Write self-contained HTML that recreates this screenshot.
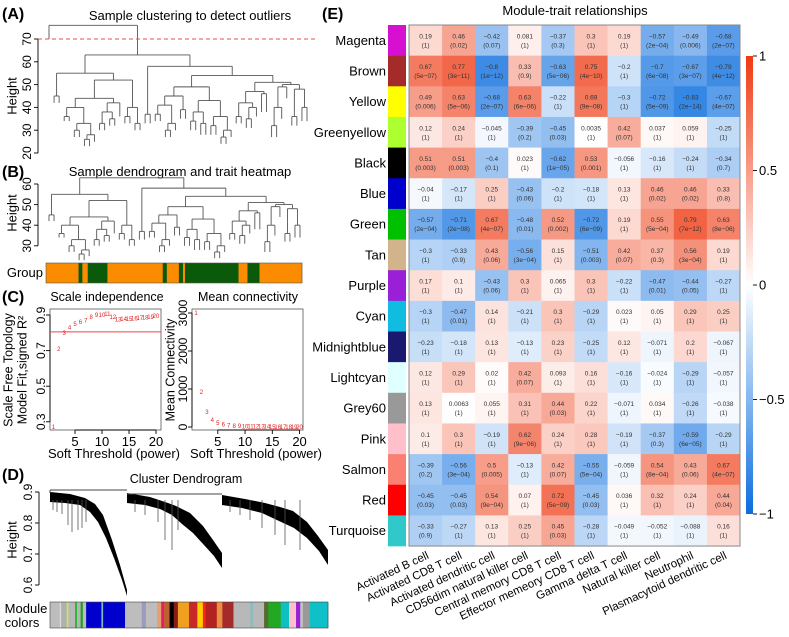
<!DOCTYPE html>
<html><head><meta charset="utf-8"><style>
body{margin:0;background:#fff;}
svg{display:block;font-family:"Liberation Sans",sans-serif;}
</style></head><body>
<svg id="fig" width="789" height="637" viewBox="0 0 789 637" xmlns="http://www.w3.org/2000/svg">
<g id="gA"></g>
<g id="gB"></g>
<g id="gC"></g>
<g id="gD"></g>
<g id="gE"></g>
</svg>
<script>
const NS='http://www.w3.org/2000/svg';
function el(p,tag,at,txt){const e=document.createElementNS(NS,tag);for(const k in at)e.setAttribute(k,at[k]);if(txt!==undefined)e.textContent=txt;p.appendChild(e);return e;}
function T(p,x,y,s,size,opt){opt=opt||{};const e=el(p,'text',{x:x,y:y,'font-size':size,'text-anchor':opt.anchor||'middle',fill:opt.fill||'#000'},s);if(opt.rot!==undefined)e.setAttribute('transform','rotate('+opt.rot+' '+x+' '+y+')');if(opt.bold)e.setAttribute('font-weight','bold');return e;}
function L(p,x1,y1,x2,y2,st,w){const e=el(p,'line',{x1:x1,y1:y1,x2:x2,y2:y2,stroke:st||'#000','stroke-width':w||1});return e;}

// ---------- data ----------
const sampleTree=[76,70,[63,[55,[45,42,42],[52,[44,[40,[36,34,34],[33,[30,27,27],[28,[26,23,23],25]]],[42,[38,[33,30,30],[35,32,32]],36]],[40,[36,33,33],[33,30,30]]]],[58,[37,33,33],[54,[49,[45,[41,[37,34,34],[33,[30,27,27],30]],[39,35,35]],[43,[38,[34,30,30],[33,28,28]],[36,[32,28,28],[30,[27,24,24],27]]]],[51,[47,[42,[36,33,33],[40,[35,31,31],36]],[46,38,38]],[50,[49,[40,[32,27,27],35],44],[48,[36,32,32],[40,34,34]]]]]]]];
const groupSegments=[[0,0.127,'o'],[0.127,0.142,'g'],[0.142,0.163,'o'],[0.163,0.24,'g'],[0.24,0.456,'o'],[0.456,0.472,'g'],[0.472,0.519,'o'],[0.519,0.535,'g'],[0.535,0.543,'o'],[0.543,0.752,'g'],[0.752,0.787,'o'],[0.787,0.834,'g'],[0.834,1,'o']];
const powers=[1,2,3,4,5,6,7,8,9,10,11,12,13,14,15,16,17,18,19,20];
const sftFit=[0.27,0.71,0.8,0.83,0.85,0.86,0.87,0.89,0.9,0.9,0.905,0.89,0.875,0.878,0.878,0.88,0.882,0.885,0.888,0.893];
const meanConn=[3000,920,400,180,100,60,40,28,20,16,12,10,8,7,6,5,4,3,3,2];
const rsqCut=0.805;
const modules=['Magenta','Brown','Yellow','Greenyellow','Black','Blue','Green','Tan','Purple','Cyan','Midnightblue','Lightcyan','Grey60','Pink','Salmon','Red','Turquoise'];
const moduleColors=['#d60fd0','#a52a2a','#ffff00','#adff2f','#000000','#0000cd','#00c000','#d2b48c','#9a20d8','#10bde0','#191970','#e0ffff','#999999','#ffc0cb','#fa8072','#ff0000','#30c8c8'];
const traits=['Activated B cell','Activated CD8 T cell','Activated dendritic cell','CD56dim natural killer cell','Central memory CD8 T cell','Effector memeory CD8 T cell','Gamma delta T cell','Natural killer cell','Neutrophil','Plasmacytoid dendritic cell'];
const cor=[
[0.19,0.46,-0.42,0.081,-0.37,0.3,0.19,-0.57,-0.49,-0.68],
[0.67,0.77,-0.8,0.33,-0.63,0.75,-0.2,-0.7,-0.67,-0.79],
[0.49,0.63,-0.68,0.63,-0.22,0.69,-0.3,-0.72,-0.83,-0.67],
[0.12,0.24,-0.045,-0.39,-0.45,0.0035,0.42,0.037,0.059,-0.25],
[0.51,0.51,-0.4,0.023,-0.62,0.53,-0.056,-0.16,-0.24,-0.34],
[-0.04,-0.17,0.25,-0.43,-0.2,-0.18,0.13,0.46,0.46,0.33],
[-0.57,-0.71,0.67,-0.48,0.52,-0.72,0.19,0.55,0.79,0.63],
[-0.3,-0.33,0.43,-0.56,0.15,-0.51,0.42,0.37,0.56,0.19],
[0.17,0.1,-0.43,0.3,0.065,0.3,-0.22,-0.47,-0.44,-0.27],
[-0.3,-0.47,0.14,-0.21,0.3,-0.29,0.023,0.05,0.29,0.25],
[-0.23,-0.18,0.13,-0.13,0.23,-0.25,0.12,-0.071,0.2,-0.067],
[0.12,0.29,0.02,0.42,0.093,0.16,-0.16,-0.024,-0.29,-0.057],
[0.13,0.0063,0.055,0.31,0.44,0.22,-0.071,0.034,-0.26,-0.038],
[0.1,0.3,-0.19,0.62,0.24,0.28,-0.19,-0.37,-0.59,-0.29],
[-0.39,-0.56,0.5,-0.13,0.42,-0.55,-0.059,0.54,0.43,0.67],
[-0.45,-0.45,0.54,0.07,0.72,-0.45,0.036,0.32,0.24,0.44],
[-0.33,-0.27,0.13,0.25,0.45,-0.28,-0.049,-0.052,-0.088,0.16]];
const pval=[
['1','0.02','0.07','1','0.3','1','1','2e-04','0.006','2e-07'],
['5e-07','3e-11','1e-12','0.9','5e-06','4e-10','1','6e-08','3e-07','4e-12'],
['0.006','5e-06','2e-07','6e-06','1','9e-08','1','5e-09','2e-14','4e-07'],
['1','1','1','0.2','0.03','1','0.07','1','1','1'],
['0.003','0.003','0.1','1','1e-05','0.001','1','1','1','0.7'],
['1','1','1','0.06','1','1','1','0.02','0.02','0.8'],
['2e-04','2e-08','4e-07','0.01','0.002','6e-09','1','5e-04','7e-12','8e-06'],
['1','0.9','0.06','3e-04','1','0.003','0.07','0.3','3e-04','1'],
['1','1','0.06','1','1','1','1','0.01','0.05','1'],
['1','0.01','1','1','1','1','1','1','1','1'],
['1','1','1','1','1','1','1','1','1','1'],
['1','1','1','0.07','1','1','1','1','1','1'],
['1','1','1','1','0.03','1','1','1','1','1'],
['1','1','1','9e-06','1','1','1','0.3','6e-05','1'],
['0.2','3e-04','0.005','1','0.07','5e-04','1','8e-04','0.06','4e-07'],
['0.03','0.03','9e-04','1','5e-09','0.03','1','1','1','0.04'],
['0.9','1','1','1','0.03','1','1','1','1','1']];
const cbTicks=[1,0.5,0,-0.5,-1];
const stripSegs=[[0,0.035,'#bdbdbd'],[0.035,0.04,'#d9d9d9'],[0.04,0.06,'#b0b0b0'],[0.06,0.066,'#c5e85c'],[0.066,0.09,'#b8b8b8'],[0.09,0.097,'#2db82d'],[0.097,0.11,'#b5b5b5'],[0.11,0.118,'#20a020'],[0.118,0.13,'#bbb'],[0.13,0.27,'#0000cd'],[0.185,0.19,'#7fbfbf'],[0.27,0.33,'#bdbdbd'],[0.33,0.345,'#9b9bbf'],[0.345,0.385,'#bdbdbd'],[0.385,0.40,'#e8a070'],[0.40,0.41,'#e0206a'],[0.41,0.43,'#c06030'],[0.43,0.445,'#000'],[0.445,0.46,'#8b1a1a'],[0.46,0.5,'#f0a020'],[0.5,0.53,'#c82828'],[0.53,0.55,'#ffcc00'],[0.55,0.56,'#ff2020'],[0.56,0.6,'#b22222'],[0.6,0.62,'#e89040'],[0.62,0.66,'#a52a2a'],[0.66,0.77,'#b8b8b8'],[0.72,0.73,'#8fbcbc'],[0.77,0.785,'#556b2f'],[0.785,0.83,'#22a822'],[0.83,0.86,'#10c0c0'],[0.86,0.885,'#ffc0cb'],[0.885,0.9,'#9a20d8'],[0.9,0.91,'#c0c0c0'],[0.91,0.935,'#999'],[0.935,1,'#10c0c8']];

// ---------- helpers ----------
function countLeaves(t){return Array.isArray(t)?countLeaves(t[1])+countLeaves(t[2]):1;}
function drawTree(g,tree,x0,x1,ys,col){
  const n=countLeaves(tree);const step=(x1-x0)/(n-1);let idx=0;
  function rec(t){
    if(!Array.isArray(t)){const x=x0+step*(idx++);return {x:x,h:t,leaf:true};}
    const a=rec(t[1]),b=rec(t[2]);
    [a,b].forEach(c=>{const ln=L(g,c.x,ys(t[0]),c.x,ys(c.h),col,0.9);});
    const hl=L(g,a.x,ys(t[0]),b.x,ys(t[0]),col,0.9);
    return {x:(a.x+b.x)/2,h:t[0]};
  }
  rec(tree);
}
function yAxis(g,x,ticks,ys,lblX,size){
  L(g,x,ys(ticks[0]),x,ys(ticks[ticks.length-1]),'#000',0.9);
  ticks.forEach(v=>{L(g,x-4,ys(v),x,ys(v),'#000',0.9);T(g,lblX,ys(v),String(v),size,{rot:-90,name:'y-tick-label'}).setAttribute('dominant-baseline','middle');});
}

// ---------- Panel A ----------
const gA=document.getElementById('gA');
T(gA,2,19,'(A)',16,{anchor:'start',bold:true,name:'panel-label-a'});
T(gA,190,20,'Sample clustering to detect outliers',13,{name:'panel-a-title'});
const yA=h=>39+(70-h)*2.28;
yAxis(gA,38,[20,30,40,50,60,70],yA,28,12);
T(gA,13,96,'Height',13,{rot:-90,name:'y-axis-title'}).setAttribute('dominant-baseline','middle');
drawTree(gA,sampleTree,49,307,yA,'#555');
const dl=L(gA,38,39,316,39,'#e05050',0.9);dl.setAttribute('stroke-dasharray','4,3');

// ---------- Panel B ----------
const gB=document.getElementById('gB');
T(gB,2,177,'(B)',16,{anchor:'start',bold:true,name:'panel-label-b'});
T(gB,180,176,'Sample dendrogram and trait heatmap',13,{name:'panel-b-title'});
const yB=h=>184-(h-60)*2.06;
yAxis(gB,38,[30,40,50,60],yB,28,12);
T(gB,13,213,'Height',13,{rot:-90,name:'y-axis-title'}).setAttribute('dominant-baseline','middle');
drawTree(gB,sampleTree[2],49,300,yB,'#555');
groupSegments.forEach(s=>{const r=el(gB,'rect',{x:46+s[0]*256,y:263,width:(s[1]-s[0])*256+0.3,height:20,fill:s[2]==='o'?'#fb8c00':'#0a5a0a'});});
el(gB,'rect',{x:46,y:263,width:256,height:20,fill:'none',stroke:'#555','stroke-width':0.6});
T(gB,43,277,'Group',13,{anchor:'end',name:'group-label'});

// ---------- Panel C ----------
const gC=document.getElementById('gC');
T(gC,2,302,'(C)',16,{anchor:'start',bold:true,name:'panel-label-c'});
T(gC,107,301,'Scale independence',12.5,{name:'scale-independence-title'});
T(gC,248,301,'Mean connectivity',12.5,{name:'mean-connectivity-title'});
const xC1=p=>53.4+(p-1)*5.4, yC1=v=>315+(0.9-v)*178;
el(gC,'rect',{x:50,y:309,width:111,height:121,fill:'none',stroke:'#555','stroke-width':0.8});
yAxis(gC,50,[0.3,0.5,0.7,0.9],yC1,42,12);
[5,10,15,20].forEach(v=>{L(gC,xC1(v),430,xC1(v),434,'#000',0.9);T(gC,xC1(v),446,String(v),13,{name:'x-tick-label'});});
L(gC,xC1(5),430,xC1(20),430,'#000',0.9);
T(gC,114,458,'Soft Threshold (power)',13,{name:'x-axis-title'});
T(gC,9,370,'Scale Free Topology',12.5,{rot:-90,name:'y-axis-title'}).setAttribute('dominant-baseline','middle');
T(gC,23,370,'Model Fit,signed R²',12.5,{rot:-90,name:'y-axis-title'}).setAttribute('dominant-baseline','middle');
const rl=L(gC,50,yC1(rsqCut),161,yC1(rsqCut),'#f04040',1);
powers.forEach((p,i)=>{T(gC,xC1(p),yC1(sftFit[i])+2,String(p),6,{fill:'#e02020',name:'sft-point'});});
const xC2=p=>196+(p-1)*5.45, yC2=v=>427-v*0.038;
el(gC,'rect',{x:192,y:309,width:111,height:121,fill:'none',stroke:'#555','stroke-width':0.8});
yAxis(gC,192,[0,1000,2000,3000],yC2,184,12);
[5,10,15,20].forEach(v=>{L(gC,xC2(v),430,xC2(v),434,'#000',0.9);T(gC,xC2(v),446,String(v),13,{name:'x-tick-label'});});
L(gC,xC2(5),430,xC2(20),430,'#000',0.9);
T(gC,256,458,'Soft Threshold (power)',13,{name:'x-axis-title'});
T(gC,171,370,'Mean Connectivity',12.5,{rot:-90,name:'y-axis-title'}).setAttribute('dominant-baseline','middle');
powers.forEach((p,i)=>{T(gC,xC2(p),yC2(meanConn[i])+2,String(p),6,{fill:'#e02020',name:'connectivity-point'});});

// ---------- Panel D ----------
const gD=document.getElementById('gD');
T(gD,2,480,'(D)',16,{anchor:'start',bold:true,name:'panel-label-d'});
T(gD,186,483,'Cluster Dendrogram',12.5,{name:'cluster-dendrogram-title'});
const yD=v=>492+(0.9-v)*310;
yAxis(gD,39,[0.6,0.7,0.8,0.9],yD,29,12);
T(gD,13,540,'Height',13,{rot:-90,name:'y-axis-title'}).setAttribute('dominant-baseline','middle');
const polys=[
'50,492 70,494 85,498 95,504 103,515 112,540 120,565 127,590 127,596 122,580 114,558 106,538 98,522 90,512 80,505 65,503 50,502',
'127,493 150,497 168,503 176,506 190,513 203,526 213,540 222,553 222,568 214,556 204,545 193,533 182,524 172,515 160,509 145,505 127,503',
'222,495 245,499 265,503 280,507 293,511 307,522 318,536 328,550 328,565 319,551 307,538 294,528 279,521 262,513 242,508 222,505'];
polys.forEach(p=>{const e=el(gD,'polygon',{points:p,fill:'#000'});});
L(gD,50,490,127,490,'#444',1);L(gD,127,494,222,494,'#444',1);L(gD,50,490,50,493,'#444',1);
[[53,510],[57,512],[62,514],[68,525],[72,532],[78,530],[82,528],[86,522],[135,512],[145,515],[158,522],[165,540],[172,550],[178,530],[230,512],[240,515],[250,520],[262,528],[275,535],[285,545],[300,550]].forEach(s=>{const x=s[0],e=L(gD,x,500,x,s[1],'#555',0.8);});
stripSegs.forEach(s=>{const r=el(gD,'rect',{x:50+s[0]*278,y:602,width:(s[1]-s[0])*278+0.3,height:26,fill:s[2]});});
el(gD,'rect',{x:50,y:602,width:278,height:26,fill:'none',stroke:'#444','stroke-width':0.6});
T(gD,26,613,'Module',13,{name:'module-colors-label'});
T(gD,22,627,'colors',13,{name:'module-colors-label'});

// ---------- Panel E ----------
const gE=document.getElementById('gE');
T(gE,322,19,'(E)',16,{anchor:'start',bold:true,name:'panel-label-e'});
T(gE,575,15,'Module-trait relationships',13,{name:'heatmap-title'});
const hx0=409,hy0=25,cw=33.1,rh=30.65;
function colorFor(v){
  const c=Math.max(-1,Math.min(1,v));
  let r,g,b;
  if(c>=0){r=255+(238-255)*c;g=255+(58-255)*c;b=255+(18-255)*c;}
  else{const a=-c;r=255+(12-255)*a;g=255+(110-255)*a;b=255+(222-255)*a;}
  return 'rgb('+Math.round(r)+','+Math.round(g)+','+Math.round(b)+')';
}
const fmt=v=>String(v).replace('-','−');
modules.forEach((m,i)=>{
  const y=hy0+i*rh;
  const s=el(gE,'rect',{x:388,y:y,width:18,height:rh+0.3,fill:moduleColors[i]});
  T(gE,386,y+rh/2+4.5,m,13,{anchor:'end',name:'module-label'});
  cor[i].forEach((v,j)=>{
    const x=hx0+j*cw;
    const r=el(gE,'rect',{x:x,y:y,width:cw+0.3,height:rh+0.3,fill:colorFor(v)});
    
    
    T(gE,x+cw/2,y+rh/2-2,fmt(v),6.5,{fill:'#333',name:'cell-correlation'});
    T(gE,x+cw/2,y+rh/2+7,'('+fmt(pval[i][j])+')',6.5,{fill:'#333',name:'cell-pvalue'});
  });
});
el(gE,'rect',{x:hx0,y:hy0,width:cw*10,height:rh*17,fill:'none',stroke:'#888','stroke-width':1});
traits.forEach((t,j)=>{const x=hx0+j*cw+cw/2+4,y=hy0+rh*17+12;T(gE,x,y,t,11.5,{anchor:'end',rot:-25,name:'trait-label'});});
const cbTop=56,cbBot=514,cbX=746;
const cbY=v=>cbTop+(1-v)*(cbBot-cbTop)/2;
const defs=el(gE,'defs',{});const lg=el(defs,'linearGradient',{id:'cbg',x1:0,y1:0,x2:0,y2:1});
[1,0.5,0,-0.5,-1].forEach((v,i)=>el(lg,'stop',{offset:(i*25)+'%','stop-color':colorFor(v)}));
const cb=el(gE,'rect',{x:cbX,y:cbTop,width:7,height:cbBot-cbTop,fill:'url(#cbg)'});
cbTicks.forEach(v=>{L(gE,cbX+7,cbY(v),cbX+11,cbY(v),'#000',0.9);T(gE,cbX+13,cbY(v)+4.5,fmt(v),13,{anchor:'start',name:'colorbar-tick'});});
</script>
</body></html>
